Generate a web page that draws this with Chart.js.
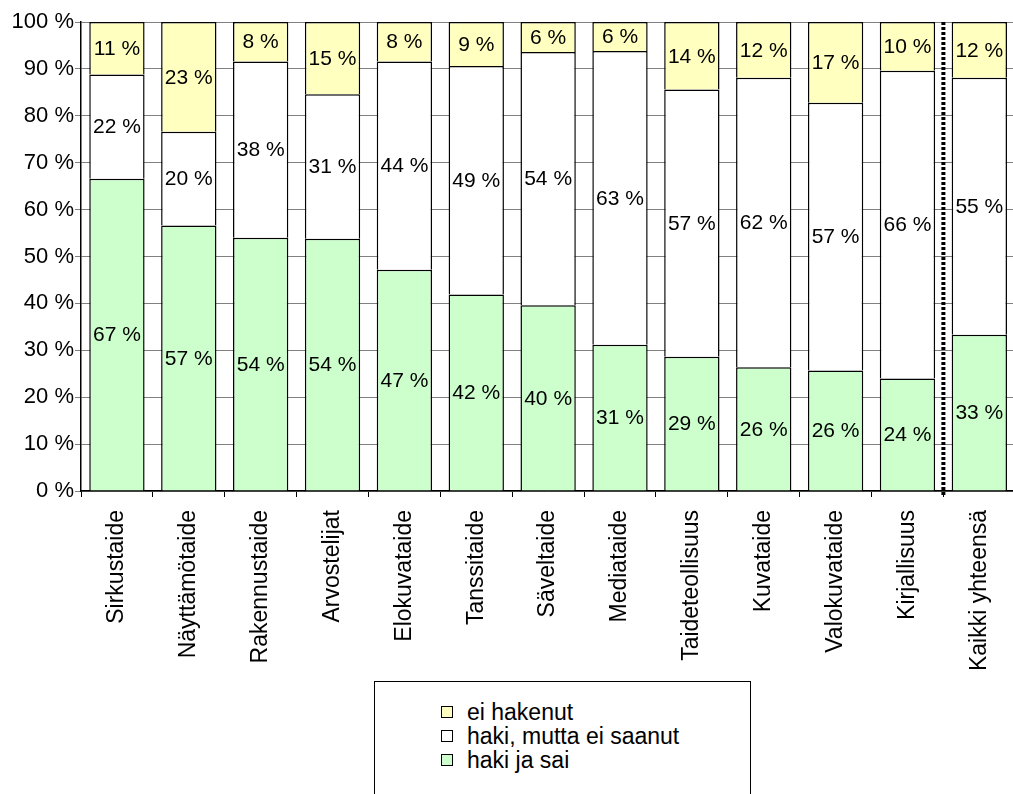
<!DOCTYPE html>
<html>
<head>
<meta charset="utf-8">
<script src="https://cdn.jsdelivr.net/npm/chart.js@4/dist/chart.umd.min.js"></script>
<style>
  html, body { margin: 0; padding: 0; background: #fff; overflow: hidden; width: 1013px; height: 794px; }
  #wrap { position: absolute; left: 0; top: 0; width: 1020px; height: 794px; }
  #legend { position: absolute; left: 374px; top: 681px; width: 377px; height: 130px; border: 1px solid #000; box-sizing: border-box; background: #fff;
            font-family: "Liberation Sans", Arial, sans-serif; font-size: 23px; color: #000; }
  .item { position: absolute; left: 66px; height: 24px; line-height: 24px; white-space: nowrap; }
  .sw { position: absolute; left: 0; top: 6px; width: 10px; height: 10px; border: 1px solid #000; }
  .lt { position: absolute; left: 26px; top: 0; }
</style>
</head>
<body>
<div id="wrap"><canvas id="c" width="1020" height="794"></canvas></div>
<div id="legend"></div>
<script>
const categories = ["Sirkustaide", "Näyttämötaide", "Rakennustaide", "Arvostelijat", "Elokuvataide", "Tanssitaide", "Säveltaide", "Mediataide", "Taideteollisuus", "Kuvataide", "Valokuvataide", "Kirjallisuus", "Kaikki yhteensä"];
const hakiJaSai      = [66.6, 56.6, 54.0, 53.8, 47.2, 41.9, 39.6, 31.2, 28.6, 26.4, 25.7, 24.0, 33.3];
const hakiEiSaanut   = [22.2, 20.0, 37.6, 30.8, 44.4, 48.7, 54.0, 62.6, 57.0, 61.7, 57.1, 65.6, 54.8];
const eiHakenut      = [11.2, 23.4,  8.4, 15.4,  8.4,  9.4,  6.4,  6.2, 14.4, 11.9, 17.2, 10.4, 11.9];
const yTicks = [0, 10, 20, 30, 40, 50, 60, 70, 80, 90, 100];
const seriesNames = ["haki ja sai", "haki, mutta ei saanut", "ei hakenut"];
const seriesColors = ["#CCFFCC", "#FFFFFF", "#FFFFC0"];

const FONT = '"Liberation Sans", Arial, sans-serif';

const valueLabels = {
  id: 'valueLabels',
  afterDatasetsDraw(chart) {
    const ctx = chart.ctx;
    ctx.save();
    ctx.font = '21px ' + FONT;
    ctx.fillStyle = '#000';
    ctx.textAlign = 'center';
    ctx.textBaseline = 'middle';
    chart.data.datasets.forEach((ds, di) => {
      const meta = chart.getDatasetMeta(di);
      meta.data.forEach((el, i) => {
        const v = ds.data[i];
        const p = el.getProps(['x', 'y', 'base'], true);
        ctx.fillText(Math.round(v) + ' %', p.x, (p.y + p.base) / 2 + 1);
      });
    });
    ctx.restore();
  }
};

const separator = {
  id: 'separator',
  afterDatasetsDraw(chart) {
    const x = chart.scales.x;
    const y = chart.scales.y;
    const px = (x.getPixelForValue(categories.length - 2) + x.getPixelForValue(categories.length - 1)) / 2;
    const ctx = chart.ctx;
    ctx.save();
    ctx.strokeStyle = '#000';
    ctx.lineWidth = 4;
    ctx.setLineDash([3, 2]);
    ctx.beginPath();
    ctx.moveTo(px, y.getPixelForValue(100));
    ctx.lineTo(px, y.getPixelForValue(0) + 5);
    ctx.stroke();
    ctx.restore();
  }
};

new Chart(document.getElementById('c'), {
  type: 'bar',
  data: {
    labels: categories,
    datasets: [hakiJaSai, hakiEiSaanut, eiHakenut].map((d, i) => ({
      label: seriesNames[i],
      data: d,
      backgroundColor: seriesColors[i],
      borderColor: '#000',
      borderWidth: { top: 1.5, left: 1.5, right: 1.5, bottom: 0 },
      borderSkipped: false,
      barPercentage: 0.77,
      categoryPercentage: 1.0
    }))
  },
  options: {
    responsive: false,
    animation: false,
    layout: { padding: { top: 22, right: 2, left: 0, bottom: 0 } },
    plugins: { legend: { display: false }, tooltip: { enabled: false }, title: { display: false } },
    scales: {
      x: {
        stacked: true,
        afterFit(s) { s.height = 303; },
        grid: { offset: true, drawOnChartArea: false, drawTicks: true, tickLength: 6, color: '#000', tickColor: '#000' },
        border: { color: '#000', width: 1.5 },
        ticks: { minRotation: 90, maxRotation: 90, autoSkip: false, padding: 13, color: '#000', font: { family: FONT, size: 23 } }
      },
      y: {
        stacked: true,
        min: 0, max: 100,
        afterFit(s) { s.width = 81; },
        afterBuildTicks(s) { s.ticks = yTicks.map(v => ({ value: v })); },
        grid: { color: '#808080', lineWidth: 1, tickLength: 6, tickColor: '#808080' },
        border: { color: '#000', width: 1.5 },
        ticks: { padding: 1, color: '#000', font: { family: FONT, size: 22 }, callback: v => v + ' %' }
      }
    }
  },
  plugins: [valueLabels, separator]
});

const legend = document.getElementById('legend');
[2, 1, 0].forEach((si, row) => {
  const it = document.createElement('div');
  it.className = 'item';
  it.style.top = (18 + row * 24) + 'px';
  const sw = document.createElement('span');
  sw.className = 'sw';
  sw.style.background = seriesColors[si];
  const t = document.createElement('span');
  t.className = 'lt';
  t.textContent = seriesNames[si];
  it.appendChild(sw); it.appendChild(t);
  legend.appendChild(it);
});
</script>
</body>
</html>
